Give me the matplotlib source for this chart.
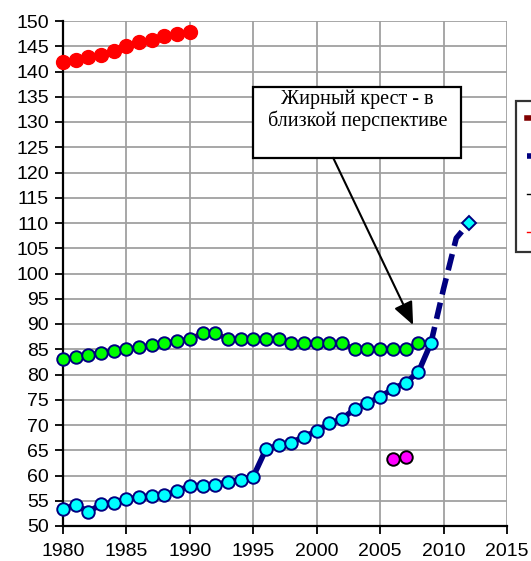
import numpy as np
import matplotlib.pyplot as plt
from matplotlib.patches import Rectangle
from matplotlib.lines import Line2D

# --- data ---
years_red = list(range(1980, 1991))
red_vals = [141.8, 142.3, 142.9, 143.3, 144.1, 145.0, 145.8, 146.2, 147.0, 147.4, 147.8]

years_green = list(range(1980, 2009))
green_vals = [83.0, 83.4, 83.9, 84.3, 84.7, 85.0, 85.4, 85.8, 86.2, 86.7,
              87.0, 88.2, 88.2, 87.0, 87.0, 87.0, 87.0, 87.0, 86.2, 86.2,
              86.2, 86.2, 86.2, 85.0, 85.0, 85.0, 85.0, 85.0, 86.2]

years_blue = list(range(1980, 2010))
blue_vals = [53.3, 54.2, 52.8, 54.3, 54.6, 55.3, 55.7, 56.0, 56.1, 56.9,
             58.0, 58.0, 58.1, 58.8, 59.2, 59.8, 65.2, 66.0, 66.5, 67.7,
             68.8, 70.3, 71.2, 73.2, 74.3, 75.6, 77.1, 78.4, 80.4, 86.2]

years_fc = [2009, 2010, 2011, 2012]
fc_vals = [86.2, 97.0, 107.0, 110.0]

years_mag = [2006, 2007]
mag_vals = [63.3, 63.7]

annot_text = "Жирный крест - в\nблизкой перспективе"
# legend labels fall outside the picture in the reference
legend_labels = [" ", " ", " ", " "]

plt.rcParams['font.family'] = ['Liberation Sans', 'DejaVu Sans']

fig = plt.figure(figsize=(5.31, 5.61), dpi=100)
ax = fig.add_axes([63 / 531, 1 - 526 / 561, 444 / 531, 505 / 561])

ax.set_xlim(1980, 2015)
ax.set_ylim(50, 150)
ax.set_xticks(np.arange(1980, 2016, 5))
ax.set_yticks(np.arange(50, 151, 5))
ax.grid(True, color='#a0a0a0', linewidth=1.3)
ax.set_axisbelow(True)
for s in ['top', 'right']:
    ax.spines[s].set_visible(False)
for s in ['left', 'bottom']:
    ax.spines[s].set_linewidth(1.6)
    ax.spines[s].set_color('black')
ax.tick_params(axis='both', direction='out', length=6, width=1.3, labelsize=14, colors='black')
ax.tick_params(axis='x', pad=6)
ax.tick_params(axis='y', pad=4)

mk = dict(marker='o', markersize=9, markeredgewidth=1.4, clip_on=False)

# red series
ax.plot(years_red, red_vals, color='red', linewidth=1, marker='o', markersize=10,
        markerfacecolor='red', markeredgecolor='red', zorder=4, clip_on=False)

# green series over a thick maroon line
ax.plot(years_green, green_vals, color='#800000', linewidth=3.5,
        markerfacecolor='#00ff00', markeredgecolor='#000080', zorder=4, **mk)

# forecast dashed navy
ax.plot(years_fc, fc_vals, color='#000080', linewidth=4, linestyle=(0, (3, 1.5)), zorder=3)
ax.plot(years_fc[-1], fc_vals[-1], marker='D', markersize=7, markerfacecolor='#00ffff',
        markeredgecolor='#000080', markeredgewidth=1.4, zorder=5)

# blue series
ax.plot(years_blue, blue_vals, color='#000080', linewidth=4,
        markerfacecolor='#00ffff', markeredgecolor='#000080', zorder=4, **mk)

# magenta points
ax.plot(years_mag, mag_vals, color='black', linewidth=1,
        markerfacecolor='#ff00ff', markeredgecolor='black', zorder=4, **mk)

# annotation box with arrow
box_x0, box_x1, box_y0, box_y1 = 1995.0, 2011.4, 122.9, 137.0
ax.add_patch(Rectangle((box_x0, box_y0), box_x1 - box_x0, box_y1 - box_y0,
                       facecolor='white', edgecolor='black', linewidth=1.6, zorder=6))
ax.text((box_x0 + box_x1) / 2, box_y1 - 0.6, annot_text, ha='center', va='top',
        fontsize=14.5, family=['Liberation Serif', 'DejaVu Serif'], linespacing=1.1, zorder=7)
ax.annotate('', xy=(2007.6, 89.8), xytext=(2001.3, box_y0),
            arrowprops=dict(arrowstyle='-|>,head_length=1.4,head_width=0.6', color='black',
                            linewidth=1.5, shrinkA=0, shrinkB=0), zorder=6)

# legend (mostly outside the canvas, as in the reference)
handles = [
    Line2D([], [], color='#800000', linewidth=4),
    Line2D([], [], color='#000080', linewidth=4, linestyle=(0, (3, 1.5))),
    Line2D([], [], color='black', linewidth=1),
    Line2D([], [], color='red', linewidth=1),
]
leg = fig.legend(handles, legend_labels, loc='upper left', bbox_to_anchor=(516 / 531, 1 - 101 / 561),
                 borderaxespad=0, frameon=True, fancybox=False, edgecolor='black', fontsize=12,
                 handlelength=3, labelspacing=1.38, borderpad=0.65, handletextpad=0.5)
leg.get_frame().set_linewidth(1.6)

fig.savefig('out.png', dpi=100)
